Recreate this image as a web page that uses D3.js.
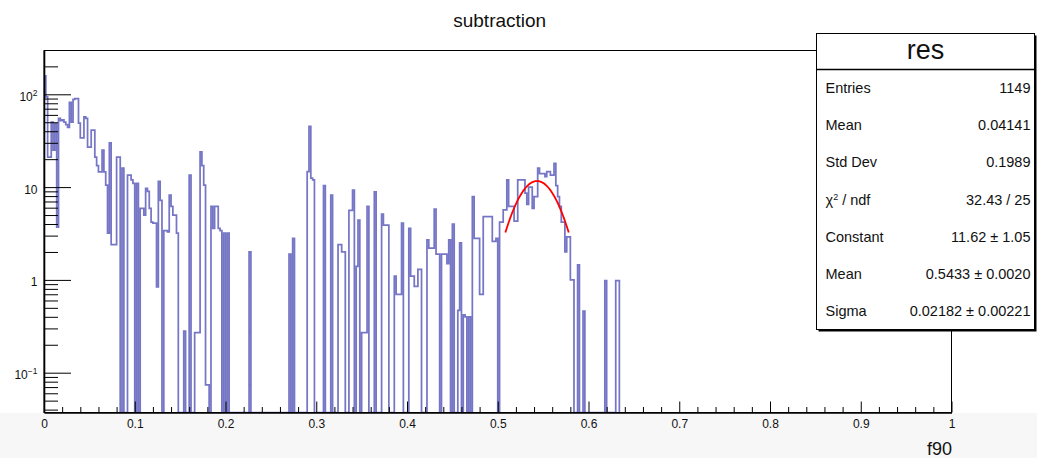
<!DOCTYPE html>
<html>
<head>
<meta charset="utf-8">
<script src="https://cdn.jsdelivr.net/npm/d3@7"></script>
<style>
  html, body { margin: 0; padding: 0; background: #ffffff; }
  svg { display: block; font-family: "Liberation Sans", Arial, Helvetica, sans-serif; }
</style>
</head>
<body>
<svg id="chart" width="1037" height="458"></svg>
<script>
// ---------------- data ----------------
const histTitle = "subtraction";
const xAxisTitle = "f90";
const xRange = [0, 1];
const nBins = 500;
// bin contents (bin width 0.002); 0 = empty / non-positive
const counts = [
  158, 94, 21, 21, 50, 25, 48, 3.7, 55, 52,
  53, 50, 47, 44, 82, 50, 88, 90, 90, 49,
  34, 34, 57, 55, 27, 27, 41, 41, 21, 17,
  14.6, 14.6, 25, 14.6, 10.5, 3.2, 30, 2.4, 2.4, 2.4,
  21, 21, 0, 16, 0, 0, 13.5, 13.5, 12, 11,
  0, 11, 0, 5.9, 5.9, 5.0, 9.7, 9.0, 5.9, 4.2,
  4.1, 4.1, 0.84, 11.5, 7.2, 0, 3.4, 3.4, 3.3, 8.2,
  6.2, 5.0, 5.0, 3.2, 0, 0, 0, 0.28, 0, 0,
  13.5, 0, 0, 0.27, 0.27, 0.27, 24, 17, 10.5, 0.074,
  0.074, 0, 6.2, 3.6, 6.2, 6.2, 3.6, 3.4, 0, 3.2,
  0, 3.2, 0, 0, 0, 0, 0, 0, 0, 0,
  0, 0, 0, 2.0, 0, 0, 0, 0, 0, 0,
  0, 0, 0, 0, 0, 0, 0, 0, 0, 0,
  0, 0, 0, 0, 0, 1.9, 0, 2.8, 0, 0,
  0, 0, 0, 0, 0, 14.7, 45, 12.5, 12, 0,
  0, 0, 0, 0, 10.4, 0, 0, 0, 8.2, 0,
  0, 0, 2.4, 2.4, 2.0, 2.0, 0, 0, 5.6, 5.6,
  9.3, 0, 1.4, 4.4, 0, 0.27, 0.27, 0.27, 6.2, 0,
  0, 0, 8.9, 0, 0, 0, 5.1, 3.9, 3.9, 3.9,
  0, 0, 0, 1.1, 0.7, 0.7, 0.7, 4.1, 0, 0,
  0, 3.6, 1.1, 1.1, 0.85, 0.85, 1.3, 1.3, 0, 0,
  0, 2.7, 2.2, 2.2, 2.2, 5.8, 1.9, 1.9, 0, 1.9,
  1.9, 1.9, 1.5, 2.7, 0, 4.0, 0, 0, 0.47, 2.5,
  0, 0.42, 0.4, 0, 0.4, 0, 7.9, 2.8, 2.8, 2.8,
  0.7, 0.7, 4.8, 4.8, 4.8, 4.8, 4.8, 2.6, 2.6, 2.8,
  0, 4.2, 4.2, 5.7, 5.7, 12, 6.2, 6.2, 6.2, 4.3,
  4.3, 12, 12, 12, 12, 8.6, 6.5, 10, 10, 5.9,
  7.9, 7.9, 16, 14, 14, 14, 13, 14.7, 14.7, 13.5,
  13.5, 18, 10.4, 7.9, 6.2, 4.2, 4.2, 2.0, 2.9, 2.9,
  1.0, 1.0, 0, 0, 1.45, 0, 0, 0.46, 0, 0,
  0, 0, 0, 0, 0, 0, 0, 0, 0, 0.98,
  0, 0, 0, 0, 0, 0.98, 0.98
];
// Gaussian fit parameters (from the stats box)
const fitConstant = 11.62;
const fitMean = 0.5433;
const fitSigma = 0.02182;
const fitRange = [0.5084, 0.5782];
// axis ticks
const xMajorTicks = [0, 0.1, 0.2, 0.3, 0.4, 0.5, 0.6, 0.7, 0.8, 0.9, 1];
const xTickLabels = ["0", "0.1", "0.2", "0.3", "0.4", "0.5", "0.6", "0.7", "0.8", "0.9", "1"];
const yDecades = [0.1, 1, 10, 100];
const yDecadeLabels = [["10", "\u22121"], ["1", null], ["10", null], ["10", "2"]];
const yDomain = [0.03724, 296.5];
// stats box
const statsName = "res";
const statsLabels = ["Entries", "Mean", "Std Dev", "CHI", "Constant", "Mean", "Sigma"];
const statsValues = ["1149", "0.04141", "0.1989", "32.43 / 25", "11.62 \u00b1 1.05", "0.5433 \u00b1 0.0020", "0.02182 \u00b1 0.00221"];

// ---------------- layout ----------------
const frame = { left: 44, right: 951.5, top: 50.5, bottom: 412.5 };
const svg = d3.select("#chart");

const x = d3.scaleLinear().domain(xRange).range([frame.left, frame.right]);
const y = d3.scaleLog().domain(yDomain).range([frame.bottom, frame.top]);
const bw = (xRange[1] - xRange[0]) / nBins;

// background band below axis
svg.append("rect").attr("x", 0).attr("y", frame.bottom + 0.5).attr("width", 1037).attr("height", 458 - frame.bottom)
  .attr("fill", "#f7f7f7");

// clip
svg.append("clipPath").attr("id", "clip").append("rect")
  .attr("x", frame.left).attr("y", frame.top).attr("width", frame.right - frame.left).attr("height", frame.bottom - frame.top);

// histogram outline
function yv(v) { return v > 0 ? Math.min(frame.bottom, y(Math.max(v, yDomain[0]))) : frame.bottom; }
let d = `M${x(0)},${frame.bottom}`;
counts.forEach((v, i) => {
  const yy = yv(v);
  d += `L${x(xRange[0] + i * bw)},${yy}L${x(xRange[0] + (i + 1) * bw)},${yy}`;
});
d += `L${x(xRange[0] + counts.length * bw)},${frame.bottom}`;
svg.append("path").attr("d", d).attr("clip-path", "url(#clip)")
  .attr("fill", "none").attr("stroke", "#7676c6").attr("stroke-width", 1.75).attr("stroke-linejoin", "miter");

// fit curve
const fitXs = d3.range(0, 101).map(k => fitRange[0] + (fitRange[1] - fitRange[0]) * k / 100);
const fitLine = d3.line().x(v => x(v)).y(v => y(fitConstant * Math.exp(-0.5 * Math.pow((v - fitMean) / fitSigma, 2))));
svg.append("path").attr("d", fitLine(fitXs)).attr("fill", "none").attr("stroke", "#ff0000").attr("stroke-width", 1.8);

// frame
svg.append("rect").attr("x", frame.left).attr("y", frame.top).attr("width", frame.right - frame.left).attr("height", frame.bottom - frame.top)
  .attr("fill", "none").attr("stroke", "#000").attr("stroke-width", 1);

// x axis
const xMinor = d3.range(0, 51).map(k => k * 0.02).filter(v => Math.abs(v * 10 - Math.round(v * 10)) > 1e-6);
const gx = svg.append("g").attr("transform", `translate(0,${frame.bottom})`);
gx.append("g").call(d3.axisBottom(x).tickValues(xMinor).tickSize(-5.5).tickSizeOuter(0).tickFormat(""))
  .call(g => g.select(".domain").remove());
gx.append("g").call(d3.axisBottom(x).tickValues(xMajorTicks).tickSize(-11).tickSizeOuter(0).tickPadding(7)
  .tickFormat((v, i) => xTickLabels[i]))
  .call(g => g.select(".domain").attr("stroke-width", 1.6))
  .call(g => g.selectAll("text").attr("font-size", 12).attr("fill", "#111").attr("font-family", "Liberation Sans, Arial, sans-serif"));

// y axis
const yMinor = [];
[0.01, 0.1, 1, 10, 100].forEach(dec => { for (let m = 2; m <= 9; m++) { const v = m * dec; if (v >= yDomain[0] && v <= yDomain[1]) yMinor.push(v); } });
const gy = svg.append("g").attr("transform", `translate(${frame.left},0)`);
gy.append("g").call(d3.axisLeft(y).tickValues(yMinor).tickSize(-14).tickSizeOuter(0).tickFormat(""))
  .call(g => g.select(".domain").remove());
gy.append("g").call(d3.axisLeft(y).tickValues(yDecades).tickSize(-27).tickSizeOuter(0).tickFormat(""))
  .call(g => g.select(".domain").attr("stroke-width", 1.6));
gy.selectAll(".tick line").attr("stroke", "#000");
gx.selectAll(".tick line").attr("stroke", "#000");

// y labels with superscripts
yDecades.forEach((v, i) => {
  const [base, sup] = yDecadeLabels[i];
  const t = svg.append("text").attr("x", 37.5).attr("y", y(v) + 6.5).attr("text-anchor", "end")
    .attr("font-size", 12).attr("fill", "#111");
  t.append("tspan").text(base);
  if (sup) t.append("tspan").attr("dy", -5).attr("font-size", 8.5).text(sup);
});

// titles
svg.append("text").attr("x", 499.7).attr("y", 27).attr("text-anchor", "middle").attr("font-size", 19).attr("fill", "#111").text(histTitle);
svg.append("text").attr("x", 952).attr("y", 455).attr("text-anchor", "end").attr("font-size", 18).attr("fill", "#111").text(xAxisTitle);

// stats box
const sb = { x0: 816.5, x1: 1034.5, y0: 33.5, y1: 329.5, sep: 69.5 };
svg.append("rect").attr("x", sb.x0 + 2).attr("y", sb.y0 + 2).attr("width", sb.x1 - sb.x0).attr("height", sb.y1 - sb.y0).attr("fill", "#000");
svg.append("rect").attr("x", sb.x0).attr("y", sb.y0).attr("width", sb.x1 - sb.x0).attr("height", sb.y1 - sb.y0)
  .attr("fill", "#fff").attr("stroke", "#000").attr("stroke-width", 1);
svg.append("line").attr("x1", sb.x0).attr("x2", sb.x1).attr("y1", sb.sep).attr("y2", sb.sep).attr("stroke", "#000").attr("stroke-width", 1.5);
svg.append("text").attr("x", (sb.x0 + sb.x1) / 2).attr("y", 58.5).attr("text-anchor", "middle").attr("font-size", 27).attr("fill", "#111").text(statsName);
const rowY = d3.scalePoint().domain(d3.range(statsLabels.length)).range([93.3, 315.7]);
statsLabels.forEach((lab, i) => {
  const t = svg.append("text").attr("x", 825.5).attr("y", rowY(i)).attr("font-size", 14.5).attr("fill", "#111");
  if (lab === "CHI") {
    t.append("tspan").text("\u03c7");
    t.append("tspan").attr("dy", -5).attr("font-size", 9).text("2");
    t.append("tspan").attr("dy", 5).text(" / ndf");
  } else {
    t.text(lab);
  }
  svg.append("text").attr("x", 1030.5).attr("y", rowY(i)).attr("text-anchor", "end").attr("font-size", 14.5).attr("fill", "#111").text(statsValues[i]);
});
</script>
</body>
</html>
